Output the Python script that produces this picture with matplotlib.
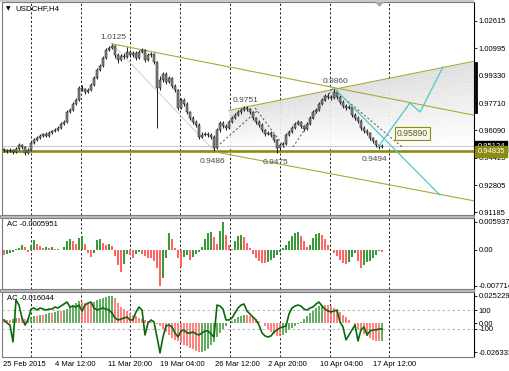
import numpy as np
import matplotlib
matplotlib.use("Agg")
import matplotlib.pyplot as plt
import matplotlib.transforms as mtransforms
from matplotlib.patches import Rectangle, Polygon
from matplotlib.lines import Line2D

plt.rcParams['font.family'] = ['Liberation Sans', 'DejaVu Sans']
plt.rcParams['font.size'] = 5.5

# ---------------- data ----------------
symbol = "USDCHF,H4"
first_open = 0.9494
closes = [0.9490, 0.9484, 0.9490, 0.9478, 0.9496, 0.9520, 0.9508, 0.9472, 0.9490, 0.9532,
          0.9550, 0.9562, 0.9574, 0.9586, 0.9574, 0.9592, 0.9604, 0.9610, 0.9622, 0.9646,
          0.9658, 0.9717, 0.9729, 0.9765, 0.9789, 0.9861, 0.9855, 0.9837, 0.9849, 0.9879,
          0.9921, 0.9969, 0.9992, 1.0040, 1.0088, 1.0100, 1.0112, 1.0058, 1.0028, 1.0052,
          1.0046, 1.0076, 1.0058, 1.0070, 1.0040, 1.0076, 1.0088, 1.0028, 1.0058, 1.0064,
          1.0016, 0.9861, 0.9909, 0.9945, 0.9897, 0.9921, 0.9873, 0.9849, 0.9741, 0.9789,
          0.9765, 0.9717, 0.9682, 0.9658, 0.9640, 0.9568, 0.9580, 0.9586, 0.9580, 0.9568,
          0.9502, 0.9610, 0.9652, 0.9634, 0.9622, 0.9658, 0.9682, 0.9699, 0.9717, 0.9729,
          0.9741, 0.9735, 0.9717, 0.9682, 0.9658, 0.9640, 0.9610, 0.9586, 0.9592, 0.9580,
          0.9550, 0.9502, 0.9520, 0.9526, 0.9580, 0.9598, 0.9622, 0.9646, 0.9658, 0.9634,
          0.9616, 0.9646, 0.9682, 0.9717, 0.9729, 0.9765, 0.9789, 0.9813, 0.9807, 0.9801,
          0.9837, 0.9807, 0.9777, 0.9753, 0.9741, 0.9747, 0.9699, 0.9682, 0.9664, 0.9622,
          0.9604, 0.9592, 0.9562, 0.9544, 0.9520, 0.9508, 0.95124]
highs = [0.9502, 0.9498, 0.9500, 0.9496, 0.9510, 0.9532, 0.9528, 0.9512, 0.9500, 0.9540,
         0.9562, 0.9572, 0.9586, 0.9594, 0.9598, 0.9602, 0.9612, 0.9622, 0.9634, 0.9656,
         0.9670, 0.9729, 0.9741, 0.9777, 0.9801, 0.9873, 0.9879, 0.9861, 0.9861, 0.9891,
         0.9933, 0.9981, 1.0004, 1.0052, 1.0100, 1.0112, 1.0125, 1.0118, 1.0070, 1.0064,
         1.0070, 1.0106, 1.0088, 1.0082, 1.0082, 1.0088, 1.0100, 1.0094, 1.0070, 1.0076,
         1.0070, 1.0022, 0.9933, 0.9957, 0.9957, 0.9933, 0.9927, 0.9885, 0.9855, 0.9801,
         0.9801, 0.9777, 0.9723, 0.9694, 0.9670, 0.9652, 0.9598, 0.9598, 0.9598, 0.9592,
         0.9580, 0.9622, 0.9664, 0.9664, 0.9646, 0.9670, 0.9694, 0.9711, 0.9729, 0.9741,
         0.9751, 0.9751, 0.9741, 0.9723, 0.9688, 0.9670, 0.9652, 0.9616, 0.9604, 0.9604,
         0.9586, 0.9556, 0.9532, 0.9538, 0.9592, 0.9610, 0.9634, 0.9658, 0.9670, 0.9664,
         0.9640, 0.9658, 0.9694, 0.9729, 0.9741, 0.9777, 0.9801, 0.9825, 0.9831, 0.9819,
         0.9860, 0.9849, 0.9819, 0.9789, 0.9765, 0.9759, 0.9753, 0.9711, 0.9694, 0.9676,
         0.9634, 0.9616, 0.9598, 0.9568, 0.9550, 0.9526, 0.9526]
lows = [0.9478, 0.9472, 0.9476, 0.9466, 0.9472, 0.9490, 0.9498, 0.9460, 0.9466, 0.9484,
        0.9526, 0.9544, 0.9556, 0.9566, 0.9566, 0.9568, 0.9586, 0.9598, 0.9604, 0.9616,
        0.9640, 0.9652, 0.9711, 0.9723, 0.9759, 0.9783, 0.9843, 0.9825, 0.9831, 0.9843,
        0.9873, 0.9915, 0.9963, 0.9986, 1.0034, 1.0082, 1.0094, 1.0040, 1.0010, 1.0022,
        1.0034, 1.0040, 1.0046, 1.0046, 1.0028, 1.0034, 1.0070, 1.0016, 1.0022, 1.0046,
        1.0004, 0.9622, 0.9849, 0.9897, 0.9885, 0.9891, 0.9861, 0.9837, 0.9729, 0.9735,
        0.9753, 0.9705, 0.9670, 0.9646, 0.9628, 0.9556, 0.9562, 0.9574, 0.9568, 0.9556,
        0.9486, 0.9496, 0.9598, 0.9622, 0.9610, 0.9616, 0.9652, 0.9676, 0.9693, 0.9705,
        0.9723, 0.9723, 0.9705, 0.9670, 0.9646, 0.9628, 0.9598, 0.9574, 0.9580, 0.9568,
        0.9538, 0.9475, 0.9490, 0.9508, 0.9520, 0.9574, 0.9592, 0.9616, 0.9640, 0.9622,
        0.9604, 0.9610, 0.9640, 0.9676, 0.9711, 0.9723, 0.9759, 0.9783, 0.9795, 0.9789,
        0.9795, 0.9795, 0.9765, 0.9741, 0.9729, 0.9735, 0.9687, 0.9670, 0.9652, 0.9610,
        0.9592, 0.9580, 0.9550, 0.9532, 0.9508, 0.9494, 0.9502]

# Accelerator oscillator (upper sub-window), in thousandths
ac_milli = [-1.10, -0.88, -0.66, -0.44, 0.22, 0.44, 1.10, 0.66, -0.44, 1.10,
            1.97, 1.31, 0.88, 0.44, 0.66, 0.44, 0.66, 0.22, 0.22, 0.00,
            0.66, 1.75, 2.19, 1.75, 1.31, 2.41, 2.85, 1.31, -0.66, -1.53,
            -0.66, 1.97, 2.19, 1.53, 1.10, 1.31, 0.88, -1.31, -3.29, -4.82,
            -3.07, -0.88, -1.10, -1.75, -0.88, -0.44, -0.88, -1.31, -1.75, -1.75,
            -2.41, -3.94, -7.714, -6.13, -1.75, 3.50, 2.19, 0.44, -1.75, -3.72,
            -1.53, -1.10, -2.19, -1.53, -0.88, -0.44, 0.66, 2.19, 3.50, 3.72,
            2.63, 1.31, 3.94, 5.937, 3.07, 1.10, 0.22, 1.75, 2.85, 3.07,
            2.63, 1.53, 0.44, -0.88, -1.75, -2.41, -2.85, -2.85, -2.63, -2.19,
            -1.75, -1.10, -0.44, 0.44, 1.10, 1.75, 2.85, 3.50, 3.72, 2.85,
            1.75, 0.66, 1.10, 2.41, 3.29, 3.50, 3.07, 2.19, 1.10, 0.00,
            -0.66, -1.31, -2.19, -2.85, -3.07, -2.63, -1.53, -0.66, -2.41, -3.94,
            -3.29, -2.63, -2.41, -1.75, -1.10, -0.22, -0.5951]

# histogram of the lower sub-window, in thousandths
hist2_milli = [3.7, 2.8, 2.8, 3.7, 4.6, 4.6, 4.6, 3.7, 4.6, 5.5,
               6.4, 6.4, 7.3, 7.3, 8.3, 9.2, 9.2, 10.1, 11.0, 11.0,
               11.9, 12.8, 14.7, 16.5, 18.3, 20.2, 19.3, 18.3, 18.3, 18.3,
               19.3, 21.1, 22.0, 22.9, 23.8, 24.8, 25.229, 22.9, 18.3, 14.7,
               12.8, 11.0, 9.2, 7.3, 6.4, 4.6, 3.7, 2.8, 1.8, 0.9,
               0.0, -0.9, -2.8, -5.5, -8.3, -11.0, -13.8, -15.6, -16.5, -18.3,
               -20.2, -21.1, -22.9, -23.8, -25.7, -26.331, -26.1, -25.7, -23.8, -20.2,
               -17.4, -12.8, -9.2, -5.5, -2.8, 0.0, 1.8, 3.7, 5.5, 6.4,
               7.3, 7.3, 6.4, 5.5, 3.7, 1.8, 0.0, -2.8, -5.5, -8.3,
               -10.1, -11.9, -11.9, -11.0, -9.2, -6.4, -4.6, -2.8, -0.9, 0.9,
               3.7, 6.4, 9.2, 11.0, 13.8, 15.6, 16.5, 16.5, 16.5, 15.6,
               13.8, 11.9, 10.1, 7.3, 5.5, 2.8, 0.0, -2.8, -5.5, -7.3,
               -10.1, -11.9, -13.8, -15.6, -16.0, -16.2, -16.044]

# oscillator line of the lower sub-window (levels +/-100)
cci = [-5, -37, -58, -236, 205, 152, 16, -58, -5, 110,
       121, 100, 121, 110, 100, 110, 110, 131, 121, 142,
       163, 184, 131, 142, 131, 152, 89, 152, 173, 184,
       121, 100, 110, 121, 110, 100, 68, 16, -5, 5,
       16, 26, -5, -5, 79, 131, 100, -163, -37, -5,
       -26, -184, -352, -184, -68, -58, -79, -142, -184, -121,
       -110, -142, -142, -131, -152, -163, -142, -121, -121, -152,
       -184, 152, 142, 110, -5, -5, 16, 68, 121, 152,
       163, 89, 58, 26, -5, -58, -142, -173, -184, -173,
       -131, -110, -89, -79, -68, 58, 121, 142, 152, 142,
       110, 100, 121, 131, 163, 184, 142, 110, 89, 79,
       89, 100, -26, -79, -215, -163, -110, -58, -226, -110,
       -79, -163, -121, -110, -110, -100, -100]
cci_levels = [100, -100]

price_ticks = [1.02615, 1.00995, 0.99330, 0.97710, 0.96090, 0.94425, 0.92805, 0.91185]
price_tick_labels = ["1.02615", "1.00995", "0.99330", "0.97710", "0.96090", "0.94425", "0.92805", "0.91185"]
ac_ticks = [0.005937, 0.0, -0.007714]
ac_tick_labels = ["0.005937", "0.00", "-0.007714"]
h2_ticks = [0.025229, 0.0, -0.026331]
h2_tick_labels = ["0.025229", "0.00", "-0.026331"]
date_labels = ["25 Feb 2015", "4 Mar 12:00", "11 Mar 20:00", "19 Mar 04:00",
               "26 Mar 12:00", "2 Apr 20:00", "10 Apr 04:00", "17 Apr 12:00"]

# swing points (bar index, price)
peak_bars = [36, 80, 110]
peak_prices = [1.0125, 0.9751, 0.9860]
trough_bars = [70, 91, 125]
trough_prices = [0.9486, 0.9475, 0.9494]

# analyst drawings (bar index, price)
support_level = 0.94835
bid_price = 0.95124
tl_down_bars, tl_down_prices = [36, 157], [1.0125, 0.9697]
tl_up_bars, tl_up_prices = [75, 157], [0.9727, 1.0022]
tl_low_bars, tl_low_prices = [70, 157], [0.9480, 0.9185]
fan_bars, fan_prices = [36, 70], [1.0125, 0.9486]
zig_bars = [[72, 84.7], [83.7, 93.7], [96.3, 109.7], [111.3, 132.7]]
zig_prices = [[0.9526, 0.9729], [0.9741, 0.9502], [0.9508, 0.9861], [0.9831, 0.9508]]
proj1_bars = [124.7, 135.3, 138.7, 146.3]
proj1_prices = [0.9508, 0.9771, 0.9717, 0.9986]
proj2_bars = [110, 145.3]
proj2_prices = [0.9860, 0.9221]
target_bar, target_price = 131, 0.95890

# layout (bar-index positions of grid lines and date labels)
grid_bars = [9, 25.67, 42, 58.67, 75.33, 92, 108.67, 128.33]
date_label_bars = [-0.33, 17, 34.67, 52, 70.33, 88, 105.33, 123]

# ---------------- figure ----------------
W, H = 510, 371
fig = plt.figure(figsize=(W / 100, H / 100), dpi=100, facecolor='white')


def rect(x0, y0, x1, y1):
    return [x0 / W, 1 - y1 / H, (x1 - x0) / W, (y1 - y0) / H]


ax1 = fig.add_axes(rect(2, 2, 474, 215))
ax2 = fig.add_axes(rect(2, 218, 474, 289))
ax3 = fig.add_axes(rect(2, 292, 474, 357))
ax3b = ax3.twinx()

XL, XR = -0.667, 156.667
n = len(closes)
x = np.arange(n)
c = np.array(closes)
o = np.concatenate([[first_open], c[:-1]])
hi = np.array(highs)
lo = np.array(lows)

OLIVE = '#8c8c14'
OLIVE_L = '#a9a93c'
CYAN = '#4cc9c9'
GREEN = '#3a9a3a'
RED = '#ff6464'

TICKS = dict(axis='y', direction='out', length=2.2, width=0.6, pad=1.2,
             labelsize=5.5, colors='black', left=False, labelleft=False,
             right=True, labelright=True)

for ax in (ax1, ax2, ax3):
    ax.set_xlim(XL, XR)
    ax.set_xticks([])
    ax.tick_params(**TICKS)
    for s in ('left', 'top', 'bottom'):
        ax.spines[s].set_color('#7a7a7a')
        ax.spines[s].set_linewidth(0.8)
    ax.spines['right'].set_color('black')
    ax.spines['right'].set_linewidth(0.8)
    for g in grid_bars:
        ax.axvline(g, color='#1e1e1e', lw=0.7, ls=(0, (2.2, 2.2)), zorder=0.5)

# ---- main price panel ----
# shaded channel under the ascending line (bands following the line)
gx = np.linspace(tl_up_bars[0], XR, 120)
top = np.interp(gx, tl_up_bars, tl_up_prices)
nb = 24
for k in range(nb):
    f0, f1 = k / nb, (k + 1) / nb
    g = 0.875 + 0.125 * (k + 0.5) / nb
    ax1.fill_between(gx, top - f0 * (top - bid_price), top - f1 * (top - bid_price),
                     color=(g, g, g), lw=0, zorder=1)

ax1.plot(fan_bars, fan_prices, color='#c8c8c8', lw=0.6, zorder=2)
ax1.axhline(bid_price, color='#bdbdbd', lw=0.6, zorder=2)
ax1.axhline(support_level, color=OLIVE, lw=1.9, zorder=3)
for bx, py in ((tl_down_bars, tl_down_prices), (tl_up_bars, tl_up_prices),
               (tl_low_bars, tl_low_prices)):
    ax1.plot(bx, py, color=OLIVE_L, lw=0.8, zorder=3)

# candles
ax1.vlines(x, lo, hi, color='#111111', lw=0.65, zorder=4)
body_h = np.abs(c - o)
body_h = np.where(body_h < 1e-5, 0.00012, body_h)
ax1.bar(x, body_h, bottom=np.minimum(o, c), width=0.66, color='#8a8a8a',
        edgecolor='#111111', linewidth=0.35, zorder=4)

for bx, py in zip(zig_bars, zig_prices):
    ax1.plot(bx, py, color='#555555', lw=0.7, ls=(0, (2.2, 2.2)), zorder=5)
ax1.plot(proj1_bars, proj1_prices, color=CYAN, lw=0.9, zorder=5)
ax1.plot(proj2_bars, proj2_prices, color=CYAN, lw=0.9, zorder=5)

for b, p in zip(peak_bars, peak_prices):
    ax1.annotate(f"{p:.4f}", (b, p), xytext=(1, 2), textcoords='offset points',
                 ha='center', va='bottom', fontsize=6, color='#4a4a4a', zorder=7)
for b, p in zip(trough_bars, trough_prices):
    ax1.annotate(f"{p:.4f}", (b, p), xytext=(-1 if b < 120 else -3, -5),
                 textcoords='offset points', ha='center', va='top', fontsize=6,
                 color='#4a4a4a', zorder=7)

ax1.text(target_bar, target_price, f"{target_price:.5f}", color='#5e5e10',
         fontsize=6.2, va='center', ha='left', zorder=8,
         bbox=dict(boxstyle='square,pad=0.2', fc='#f7f7ec', ec=OLIVE, lw=0.8))

ax1.set_ylim(0.91014, 1.03751)
ax1.set_yticks(price_ticks)
ax1.set_yticklabels(price_tick_labels)

trans1 = mtransforms.blended_transform_factory(ax1.transAxes, ax1.transData)
ax1.text(1.007, bid_price, f"{bid_price:.5f}", transform=trans1, color='white',
         va='center', ha='left', fontsize=5.5, clip_on=False, zorder=10,
         bbox=dict(boxstyle='square,pad=0.25', fc='black', ec='black'))
ax1.text(1.007, support_level, f"{support_level:.5f}", transform=trans1,
         color='white', va='center', ha='left', fontsize=5.5, clip_on=False,
         zorder=11, bbox=dict(boxstyle='square,pad=0.25', fc=OLIVE, ec=OLIVE))

# ---- AC panel ----
ac = np.array(ac_milli) * 1e-3
ac_cols = [GREEN if i > 0 and ac[i] > ac[i - 1] else RED for i in range(n)]
ax2.bar(x, ac, width=0.85, color=ac_cols, zorder=2)
ax2.set_ylim(-8.37e-3, 6.75e-3)
ax2.set_yticks(ac_ticks)
ax2.set_yticklabels(ac_tick_labels)

# ---- lower panel ----
h2 = np.array(hist2_milli) * 1e-3
h2_cols = [GREEN if i > 0 and h2[i] > h2[i - 1] else RED for i in range(n)]
ax3.bar(x, h2, width=0.85, color=h2_cols, alpha=0.8, zorder=2)
ax3.set_ylim(-30.9e-3, 28.7e-3)
ax3.set_yticks(h2_ticks)
ax3.set_yticklabels(h2_tick_labels)
ax3.yaxis.set_ticks_position('right')
ax3.tick_params(**TICKS)

ax3b.set_xlim(XL, XR)
ax3b.set_ylim(-394.9, 289.6)
for lv in cci_levels:
    ax3b.axhline(lv, color='#ababab', lw=0.6, ls=(0, (3, 3)), zorder=1)
ax3b.plot(x, cci, color='#0a6a0a', lw=1.2, zorder=3)
ax3b.set_yticks(cci_levels)
ax3b.set_yticklabels([str(v) for v in cci_levels])
ax3b.tick_params(**TICKS)
for s in ax3b.spines.values():
    s.set_visible(False)

# ---- frame decorations ----
for y0, y1 in ((215, 218), (289, 292)):
    fig.add_artist(Rectangle((0, 1 - y1 / H), 474.5 / W, (y1 - y0) / H,
                             transform=fig.transFigure, fc='#b8b8b8',
                             ec='#707070', lw=0.5))
fig.add_artist(Rectangle((0, 1 - 2 / H), 474.5 / W, 2 / H, transform=fig.transFigure,
                         fc='#c8c8c8', ec='none'))
fig.add_artist(Line2D([475.6 / W, 475.6 / W], [1 - 63 / H, 1 - 112 / H],
                      transform=fig.transFigure, color='black', lw=2.0))
fig.add_artist(Polygon([[375 / W, 1 - 2 / H], [384 / W, 1 - 2 / H], [379.5 / W, 1 - 7 / H]],
                       closed=True, transform=fig.transFigure, fc='#a8a8a8', ec='none'))

fig.text(6 / W, 1 - 9 / H, "\u25bc", fontsize=4.2, va='center', ha='left',
         family=['DejaVu Sans'])
fig.text(15 / W, 1 - 9 / H, symbol, fontsize=5.7, va='center', ha='left')
fig.text(7 / W, 1 - 224.5 / H, f"AC {ac[-1]:.7f}", fontsize=5.5, va='center', ha='left')
fig.text(7 / W, 1 - 298 / H, f"AC {h2[-1]:.6f}", fontsize=5.5, va='center', ha='left')

tdate = mtransforms.blended_transform_factory(ax3.transData, fig.transFigure)
for lbl, pos in zip(date_labels, date_label_bars):
    fig.text(pos, 1 - 365 / H, lbl, transform=tdate, fontsize=5.5,
             va='center', ha='left')

fig.savefig("out.png", dpi=100, facecolor='white')
